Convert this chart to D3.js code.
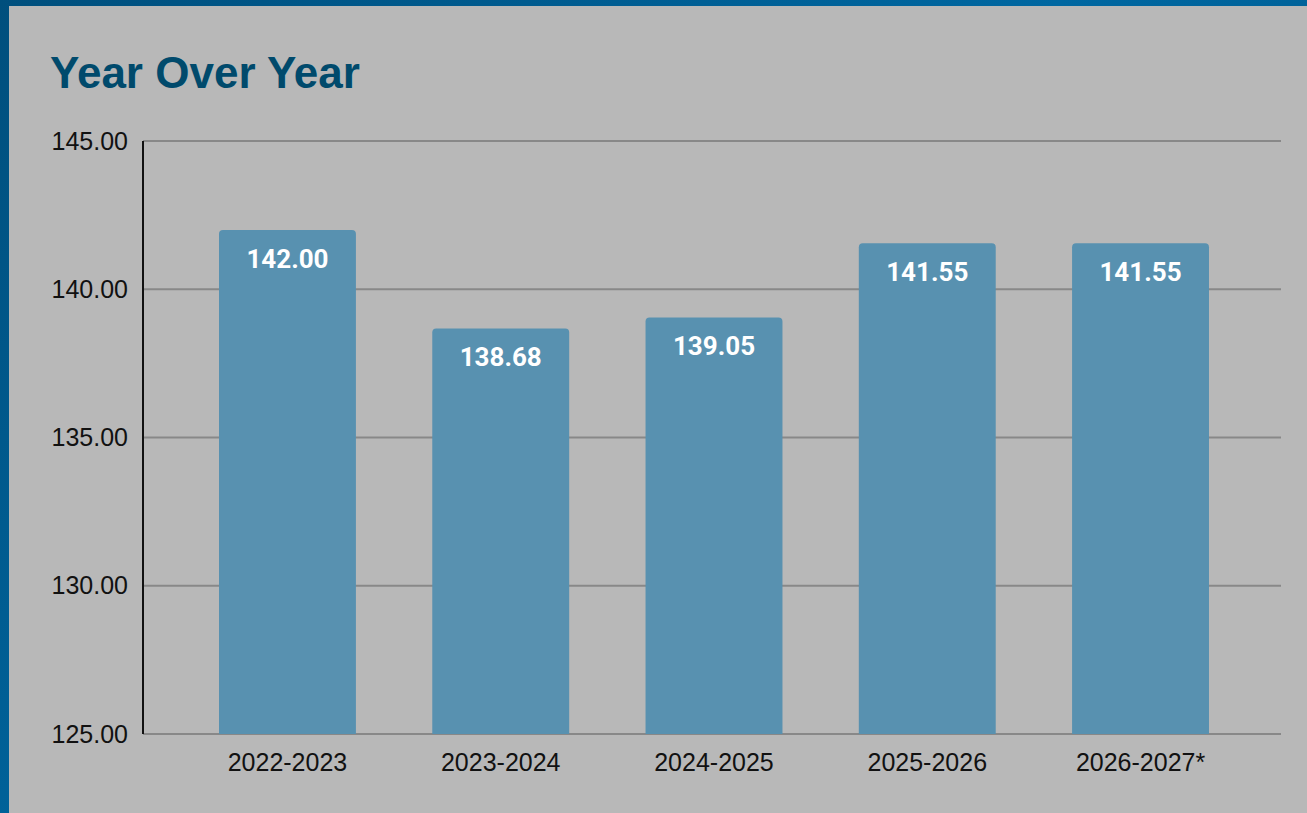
<!DOCTYPE html>
<html>
<head>
<meta charset="utf-8">
<script src="https://cdn.jsdelivr.net/npm/d3@7"></script>
<style>
  html, body { margin: 0; padding: 0; }
  body {
    width: 1307px; height: 813px; overflow: hidden;
    background: linear-gradient(135deg, #004f7d 0%, #0067a1 50%, #005585 100%);
  }
  #panel {
    position: absolute; left: 9px; top: 6px; right: 0; bottom: 0;
    background: #b8b8b8;
  }
  svg { position: absolute; left: 0; top: 0; }
</style>
</head>
<body>
<div id="panel"></div>
<div id="chart"></div>
<script>
// Daten
const categories = ["2022-2023", "2023-2024", "2024-2025", "2025-2026", "2026-2027*"];
const values = [142.00, 138.68, 139.05, 141.55, 141.55];
const yTicks = [125, 130, 135, 140, 145];

function drawChart() {
    const width = 1307;
    const height = 813;
    const left = 143, right = 1281, top = 141, bottom = 734;

    const svg = d3.select("#chart")
        .append("svg")
        .attr("width", width)
        .attr("height", height);

    // Titel
    svg.append("text")
        .attr("x", 50)
        .attr("y", 88)
        .attr("font-family", "'Liberation Sans', Arial, sans-serif")
        .attr("font-weight", "bold")
        .attr("font-size", "44px")
        .attr("fill", "#004a6c")
        .text("Year Over Year");

    const x = d3.scaleBand()
        .domain(categories)
        .range([left + 2, right + 2])
        .paddingInner(0.358)
        .paddingOuter(0.347);

    const y = d3.scaleLinear()
        .domain([125, 145])
        .range([bottom, top]);

    // Gitterlinien
    svg.append("g")
        .selectAll("line")
        .data(yTicks)
        .join("line")
        .attr("x1", left)
        .attr("x2", right)
        .attr("y1", d => y(d))
        .attr("y2", d => y(d))
        .attr("stroke", "#888888")
        .attr("stroke-width", 2);

    // Y-Achse
    const yAxis = svg.append("g")
        .attr("transform", `translate(${left},0)`)
        .call(d3.axisLeft(y).tickValues(yTicks).tickSize(0).tickPadding(15).tickFormat(d3.format(".2f")));
    yAxis.select(".domain").remove();
    yAxis.selectAll("text")
        .attr("font-family", "'Liberation Sans', Arial, sans-serif")
        .attr("font-size", "25px")
        .attr("fill", "#111");

    svg.append("line")
        .attr("x1", left).attr("x2", left)
        .attr("y1", top).attr("y2", bottom)
        .attr("stroke", "#111")
        .attr("stroke-width", 2);

    // Balken
    const r = 4;
    svg.append("g")
        .selectAll("path")
        .data(values)
        .join("path")
        .attr("d", (d, i) => {
            const x0 = x(categories[i]), w = x.bandwidth();
            const y0 = y(d), h = bottom - y(d);
            return `M${x0},${y0 + h}V${y0 + r}Q${x0},${y0} ${x0 + r},${y0}H${x0 + w - r}Q${x0 + w},${y0} ${x0 + w},${y0 + r}V${y0 + h}Z`;
        })
        .attr("fill", "#5891b0");

    // Werte in den Balken
    svg.append("g")
        .selectAll("text")
        .data(values)
        .join("text")
        .attr("x", (d, i) => x(categories[i]) + x.bandwidth() / 2)
        .attr("y", d => y(d) + 38)
        .attr("text-anchor", "middle")
        .attr("font-family", "Roboto, sans-serif")
        .attr("font-weight", "bold")
        .attr("font-size", "26px")
        .attr("fill", "#fff")
        .text(d => d.toFixed(2));

    // X-Achse
    const xAxis = svg.append("g")
        .attr("transform", `translate(0,${bottom})`)
        .call(d3.axisBottom(x).tickSize(0).tickPadding(19));
    xAxis.select(".domain").remove();
    xAxis.selectAll("text")
        .attr("font-family", "'Liberation Sans', Arial, sans-serif")
        .attr("font-size", "25px")
        .attr("fill", "#111");
}

drawChart();
</script>
</body>
</html>
